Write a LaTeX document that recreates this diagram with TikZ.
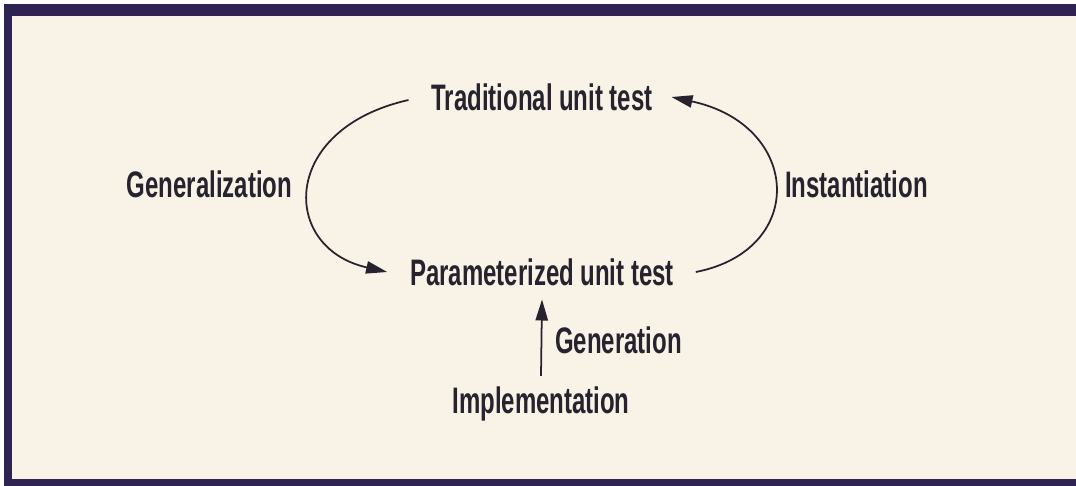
\documentclass[tikz,border=0pt]{standalone}
\usepackage{fontspec}
\setmainfont{Liberation Sans}[FakeStretch=0.65]
\usetikzlibrary{arrows.meta}

\definecolor{framenavy}{HTML}{2F2352}
\definecolor{paper}{HTML}{F9F2E7}
\definecolor{ink}{HTML}{26232E}

\begin{document}
\begin{tikzpicture}[x=0.02cm, y=-0.02cm, ->, >={Triangle[length=12pt,width=7pt]},
      line width=1pt, draw=ink,
      lbl/.style={inner sep=0pt, text=ink, font=\fontsize{21}{24}\selectfont\bfseries}]
    % frame and paper
    \useasboundingbox (0,0) rectangle (1076,486);
    \fill[white] (0,0) rectangle (1076,486);
    \fill[framenavy] (4,4) rectangle (1090,486);
    \fill[paper] (12,16) rectangle (1090,479);

    \node[lbl] (trad) at (542,97) {Traditional unit test};
    \node[lbl] (param) at (542,272) {Parameterized unit test};
    \node[lbl] (impl) at (541,404) {Implementation};
    \node[lbl] (genz) at (209.5,184) {Generalization};
    \node[lbl] (inst) at (856.5,184) {Instantiation};
    \node[lbl] (gen) at (618.5,340) {Generation};

    \draw ([xshift=-0.44cm,yshift=-0.06cm]trad.west)
          .. controls +(-129,29) and +(-107,-24) .. ([xshift=-0.44cm]param.west);
    \draw ([xshift=0.42cm]param.east)
          .. controls +(112,-22) and +(130,28) .. ([xshift=0.36cm]trad.east);
    \draw ([yshift=0.2cm]impl.north) -- ([yshift=-0.26cm]param.south);
\end{tikzpicture}
\end{document}
